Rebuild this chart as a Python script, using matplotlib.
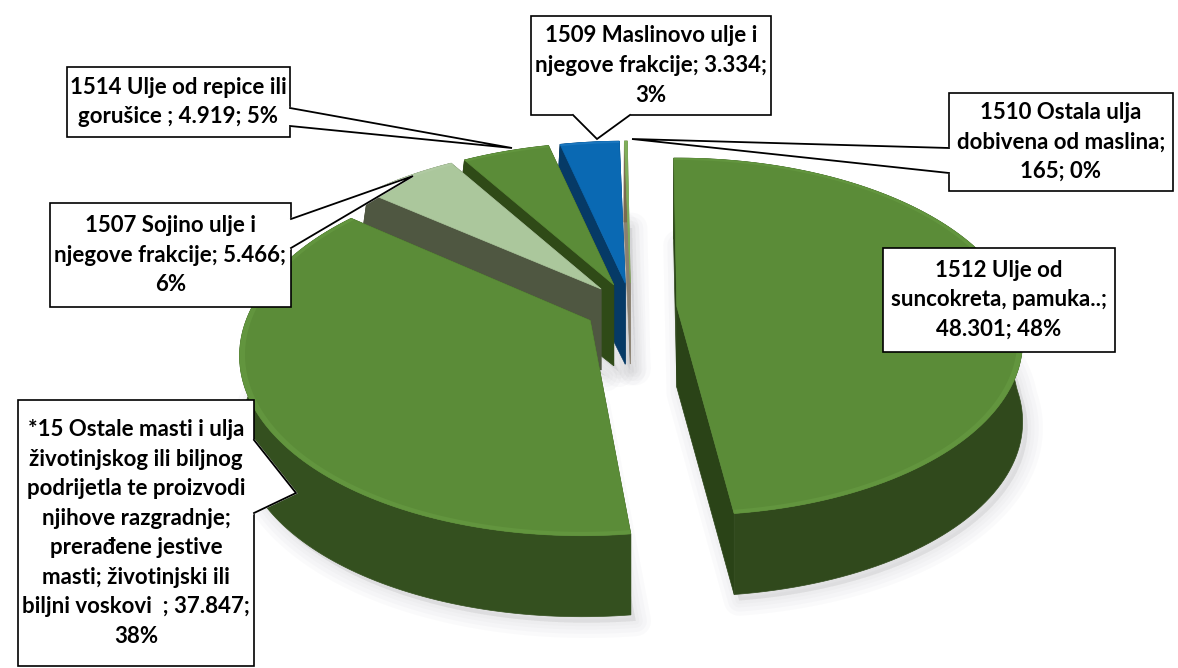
import numpy as np
import matplotlib
matplotlib.use('Agg')
import matplotlib.pyplot as plt
from matplotlib.patches import Rectangle

plt.rcParams['font.family'] = ['Lato', 'DejaVu Sans']

# clockwise from the top, same order as the chart
values = [48301, 37847, 5466, 4919, 3334, 165]
top_colors = ['#5B8C38', '#5B8C38', '#ABC79C', '#5B8C38', '#0A69B3', '#7FAF5A']
bevel_colors = ['#62953E', '#62953E', '#B0CAA2', '#62953E', '#1A76BE', '#7FAF5A']
rim_colors = ['#30491C', '#34501F', '#4F5741', '#2F4A17', '#063A66', '#7A6A50']
cut_colors = ['#2A4317', '#34501F', '#4F5741', '#2F4A17', '#063A66', '#8A8070']

labels = [
    '1512 Ulje od\nsuncokreta, pamuka..;\n48.301; 48%',
    '*15 Ostale masti i ulja\nživotinjskog ili biljnog\npodrijetla te proizvodi\n'
    'njihove razgradnje;\nprerađene jestive\nmasti; životinjski ili\n'
    'biljni voskovi  ; 37.847;\n38%',
    '1507 Sojino ulje i\nnjegove frakcije; 5.466;\n6%',
    '1514 Ulje od repice ili\ngorušice ; 4.919; 5%',
    '1509 Maslinovo ulje i\nnjegove frakcije; 3.334;\n3%',
    '1510 Ostala ulja\ndobivena od maslina;\n165; 0%',
]
# left, top, right, bottom of each label box
boxes = [
    (883, 248, 1115, 352),
    (18, 400, 254, 666),
    (50, 203, 291, 307),
    (67, 67, 290, 137),
    (531, 16, 771, 115),
    (949, 93, 1173, 191),
]
# callout tail: two points on the box and the tip on the slice
leaders = [
    None,
    ((254, 440), (296, 493), (254, 513)),
    ((291, 219), (413, 176), (291, 248)),
    ((290, 108), (512, 148), (290, 126)),
    ((573, 115), (597, 139), (630, 115)),
    ((949, 148), (632, 139), (949, 173)),
]

CX, CY = 631, 308
A, B = 340, 174
PERSP_TOP, PERSP_BOT = 0.17, 0.10
DEPTH = 81
EXPLODE_X, EXPLODE_Y = 0.135, 0.147
START = -0.6


def project(theta, r, mid, bottom=False):
    Xr = r * np.sin(theta)
    Xe = EXPLODE_X * np.sin(mid)
    Y = r * np.cos(theta) + EXPLODE_Y * np.cos(mid)
    w = 1 / (1 + PERSP_TOP * Y)
    wx = w
    if bottom:
        wx = np.where(Y > 0, 1 / (1 + PERSP_BOT * Y), w)
    # the explode offset only spreads towards the front
    x = CX + A * (Xr * wx + Xe * np.where(Y > 0, 1, w))
    y = CY - B * Y * w
    return x, y + DEPTH if bottom else y


def main():
    fig = plt.figure(figsize=(11.78, 6.68), dpi=100)
    ax = fig.add_axes([0, 0, 1, 1])
    ax.set_xlim(0, 1178)
    ax.set_ylim(668, 0)
    ax.axis('off')

    edges = np.radians(START + np.cumsum([0] + values) / sum(values) * 360)
    slices = []
    for i in range(len(values)):
        t1, t2 = edges[i], edges[i + 1]
        slices.append((np.linspace(t1, t2, 120), (t1 + t2) / 2))

    # soft shadow under the slices
    for th, mid in slices:
        bx, by = project(th, 1, mid, bottom=True)
        ax_, ay_ = project(np.array([mid]), 0, mid, bottom=True)
        px = np.r_[ax_, bx] + 5
        py = np.r_[ay_, by] + 6
        for lw in (22, 16, 10, 5):
            ax.fill(px, py, color='#7A7A80', alpha=0.03, lw=lw, joinstyle='round', zorder=1)

    # painted back to front
    for n, i in enumerate([5, 4, 3, 2, 1, 0]):
        th, mid = slices[i]
        z = 2 + n
        tx, ty = project(th, 1, mid)
        bx, by = project(th, 1, mid, bottom=True)
        ox, oy = project(np.array([mid]), 0, mid)
        ox, oy = ox[0], oy[0]
        for j in (0, -1):
            ax.fill([ox, tx[j], bx[j], ox], [oy, ty[j], by[j], oy + DEPTH],
                    color=cut_colors[i], lw=0.5, zorder=z)
        ax.fill(np.r_[tx, bx[::-1]], np.r_[ty, by[::-1]],
                color=rim_colors[i], lw=0.5, zorder=z)
        ax.fill(np.r_[ox, tx], np.r_[oy, ty], color=top_colors[i], lw=0.5, zorder=z)
        ix, iy = project(th, 0.985, mid)
        ax.fill(np.r_[tx, ix[::-1]], np.r_[ty, iy[::-1]], color=bevel_colors[i], lw=0, zorder=z)

    # label boxes on top of the pie
    for lab, box, lead in zip(labels, boxes, leaders):
        l, t, r, b = box
        ax.add_patch(Rectangle((l, t), r - l, b - t, fc='white', ec='black', lw=1.2, zorder=20))
        if lead is not None:
            ax.fill(*zip(*lead), color='white', lw=1.5, zorder=21)
            ax.plot(*zip(*lead), color='black', lw=1.3, zorder=22, solid_joinstyle='miter')
        ax.text((l + r) / 2, (t + b) / 2, lab, ha='center', va='center', fontsize=16,
                fontweight='bold', color='black', linespacing=1.5, zorder=23)

    fig.savefig('out.png', dpi=100)


if __name__ == '__main__':
    main()
